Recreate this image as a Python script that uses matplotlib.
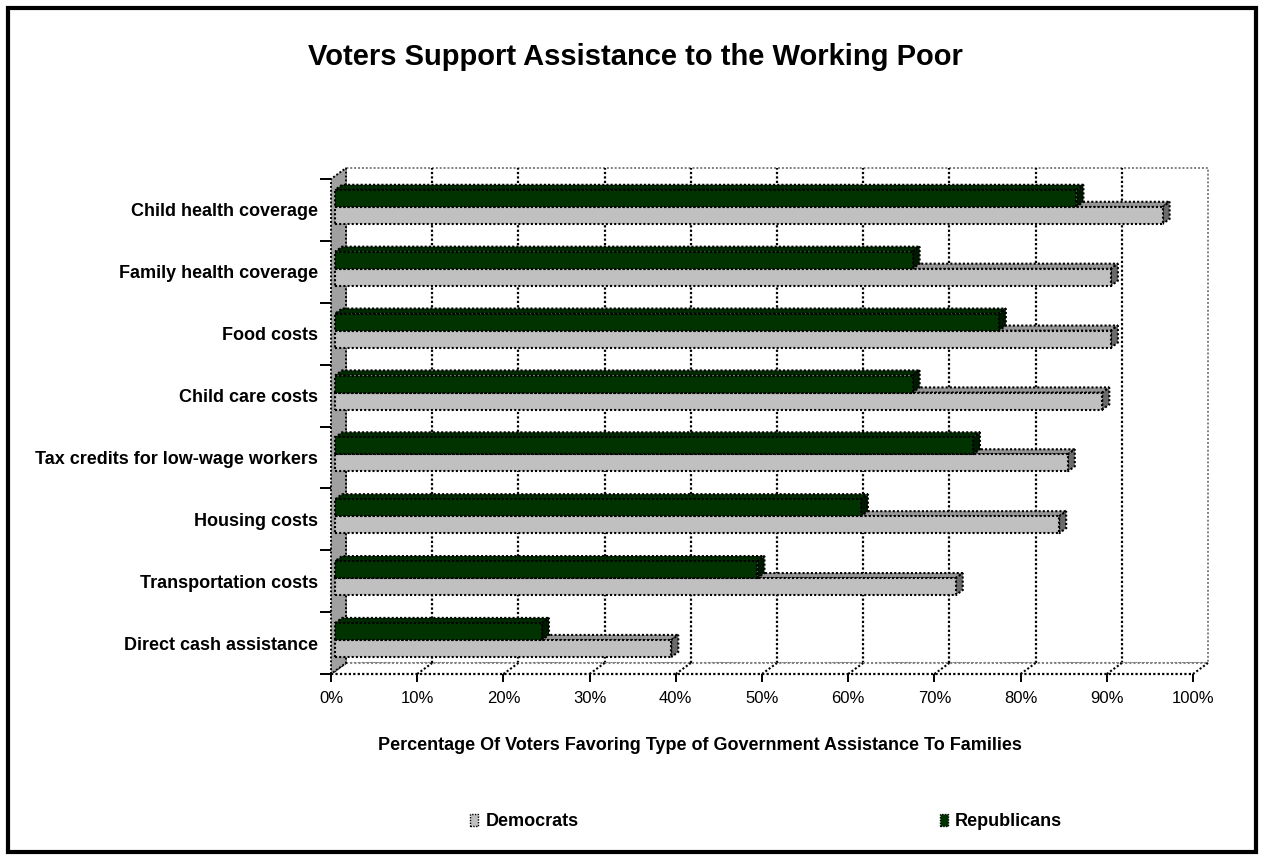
import matplotlib
matplotlib.use("Agg")
import matplotlib.pyplot as plt
from matplotlib.patches import Polygon, Rectangle, Patch
import numpy as np

# ---------------- data ----------------
categories = ["Child health coverage", "Family health coverage", "Food costs",
              "Child care costs", "Tax credits for low-wage workers",
              "Housing costs", "Transportation costs", "Direct cash assistance"]
democrats = [96, 90, 90, 89, 85, 84, 72, 39]
republicans = [86, 67, 77, 67, 74, 61, 49, 24]
series_names = ["Democrats", "Republicans"]
xticks = [0, 10, 20, 30, 40, 50, 60, 70, 80, 90, 100]
xtick_labels = ["0%", "10%", "20%", "30%", "40%", "50%", "60%", "70%", "80%", "90%", "100%"]
title = "Voters Support Assistance to the Working Poor"
xlabel = "Percentage Of Voters Favoring Type of Government Assistance To Families"

# ---------------- style ----------------
plt.rcParams['font.family'] = ['Liberation Sans', 'DejaVu Sans']
DOT = (0, (1, 1))
dem_front, dem_top, dem_side = '#C0C0C0', '#969696', '#6A6A6A'
rep_front, rep_top, rep_side = '#003300', '#002B00', '#001A00'

W, H = 1262, 857
fig = plt.figure(figsize=(W / 100, H / 100), dpi=100)
ax = fig.add_axes([331 / W, (H - 674) / H, 862 / W, 495 / H])
n = len(categories)
ax.set_xlim(0, 100)
ax.set_ylim(-0.5, n - 0.5)
ax.patch.set_visible(False)
for s in ax.spines.values():
    s.set_visible(False)

# pixel -> data conversion
pos = ax.get_position()
px_x = 100 / (pos.width * W)
px_y = n / (pos.height * H)


def dep(f):
    """offset of depth fraction f (0 = front, 1 = back wall)"""
    return f * 15 * px_x, f * 11 * px_y


ymin, ymax = -0.5, n - 0.5
wx, wy = dep(1.0)

# back wall
ax.add_patch(Rectangle((0 + wx, ymin + wy), 100, n, facecolor='white',
                       edgecolor='#808080', linestyle=DOT, lw=1.4, zorder=1, clip_on=False))
for t in xticks[1:-1]:
    ax.plot([t + wx, t + wx], [ymin + wy, ymax + wy], color='black', ls=DOT, lw=1.6,
            zorder=2, clip_on=False)
# floor
ax.add_patch(Polygon([(0, ymin), (100, ymin), (100 + wx, ymin + wy), (0 + wx, ymin + wy)],
                     closed=True, facecolor='white', edgecolor='none', zorder=2, clip_on=False))
ax.plot([0 + wx, 100 + wx], [ymin + wy, ymin + wy], color='#808080', ls=DOT, lw=1.5,
        zorder=3, clip_on=False)
for t in xticks:
    ax.plot([t, t + wx], [ymin, ymin + wy], color='black', ls=DOT, lw=1.5, zorder=3, clip_on=False)
ax.plot([0, 100], [ymin, ymin], color='black', ls=DOT, lw=1.6, zorder=3, clip_on=False)
# left wall
ax.add_patch(Polygon([(0, ymin), (0, ymax), (wx, ymax + wy), (wx, ymin + wy)], closed=True,
                     facecolor='#A0A0A0', edgecolor='black', linestyle=DOT, lw=1.4,
                     zorder=3, clip_on=False))

# bars
ypos = np.arange(n)[::-1]
h = 0.275
bx, by = dep(0.27)
ddx, ddy = dep(0.47)


def bar3d(yb, val, front, top, side, z):
    x0, x1 = bx, bx + val
    y0, y1 = yb + by, yb + by + h
    ax.add_patch(Polygon([(x0, y1), (x1, y1), (x1 + ddx, y1 + ddy), (x0 + ddx, y1 + ddy)],
                         closed=True, facecolor=top, edgecolor='black', linestyle=DOT,
                         lw=1.5, zorder=z, clip_on=False))
    ax.add_patch(Polygon([(x1, y0), (x1, y1), (x1 + ddx, y1 + ddy), (x1 + ddx, y0 + ddy)],
                         closed=True, facecolor=side, edgecolor='black', linestyle=DOT,
                         lw=1.5, zorder=z, clip_on=False))
    ax.barh(y0, val, left=x0, height=h, align='edge', color=front, edgecolor='black',
            linestyle=DOT, lw=1.5, zorder=z, clip_on=False)


for i in range(n):
    c = ypos[i]
    bar3d(c - h, democrats[i], dem_front, dem_top, dem_side, 4 + 2 * i)
    bar3d(c, republicans[i], rep_front, rep_top, rep_side, 5 + 2 * i)

# ticks & labels
ax.set_xticks(xticks, xtick_labels)
ax.tick_params(axis='x', length=6, width=1.4, direction='out', pad=6, labelsize=12)
ax.set_yticks(ypos, categories)
ax.tick_params(axis='y', which='major', length=0, pad=9.5, labelsize=13)
for lab in ax.get_yticklabels():
    lab.set_fontweight('bold')
ax.set_yticks(np.arange(-0.5, n, 1.0), minor=True)
ax.tick_params(axis='y', which='minor', length=8, width=1.4, direction='out')

# texts
fig.text(635 / W, 1 - 57 / H, title, ha='center', va='center', fontsize=21, fontweight='bold')
fig.text(700 / W, 1 - 745 / H, xlabel, ha='center', va='center', fontsize=13,
         fontweight='bold')

handles = [Patch(facecolor=dem_front, edgecolor='black', linestyle=DOT, lw=1.0),
           Patch(facecolor=rep_front, edgecolor='black', linestyle=DOT, lw=1.0)]
fig.legend(handles, series_names, ncol=2, loc='center', bbox_to_anchor=(766 / W, 1 - 822 / H),
           frameon=False, prop={'weight': 'bold', 'size': 13}, handlelength=0.45,
           handleheight=0.6, handletextpad=0.4, columnspacing=20)

# outer border
fig.patches.append(Rectangle((8 / W, 5 / H), 1248 / W, 844 / H, transform=fig.transFigure,
                             fill=False, edgecolor='black', lw=3, zorder=10))

fig.savefig("out.png", dpi=100)
